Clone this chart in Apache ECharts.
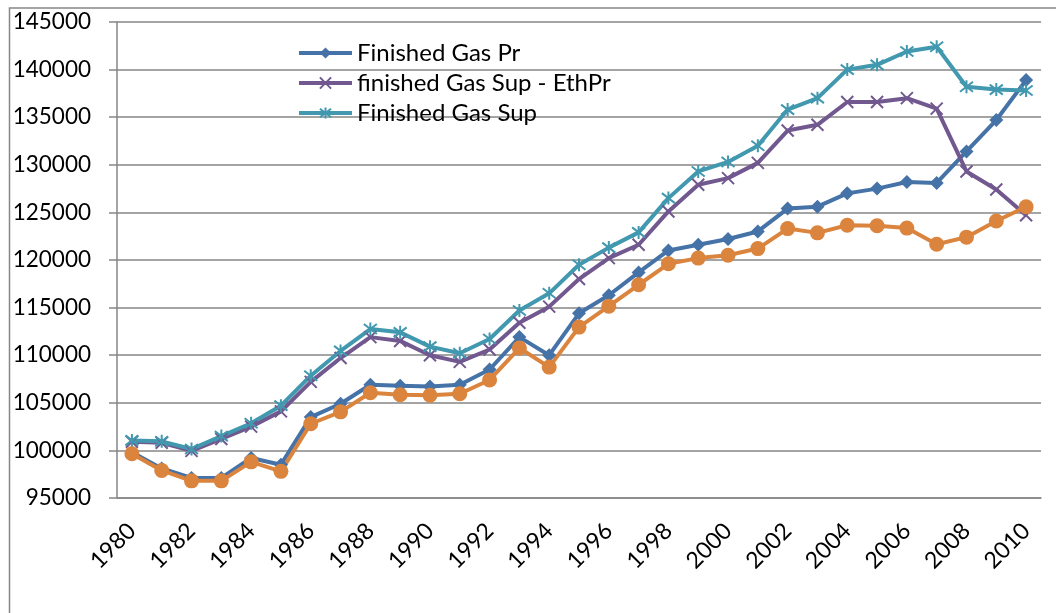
<!DOCTYPE html>
<html>
<head>
<meta charset="utf-8">
<script src="https://cdn.jsdelivr.net/npm/echarts@6/dist/echarts.min.js"></script>
<style>
html,body{margin:0;padding:0;background:#fff;}
#chart{width:1056px;height:613px;}
</style>
</head>
<body>
<div id="chart"></div>
<script>
const years = ['1980','1981','1982','1983','1984','1985','1986','1987','1988','1989','1990','1991','1992','1993','1994','1995','1996','1997','1998','1999','2000','2001','2002','2003','2004','2005','2006','2007','2008','2009','2010'];
const finishedGasPr = [99800,98100,97100,97100,99200,98500,103500,104900,106900,106800,106700,106900,108500,111900,110000,114400,116300,118700,121000,121600,122200,123000,125400,125600,127000,127500,128200,128100,131400,134700,138900];
const finishedGasSupMinusEthPr = [100900,100800,99950,101200,102500,104100,107200,109700,111900,111500,110000,109300,110600,113400,115100,118000,120200,121600,125100,127900,128600,130200,133600,134200,136600,136600,137000,135900,129300,127400,124700];
const finishedGasSup = [101050,100950,100150,101500,102850,104700,107850,110450,112750,112400,110900,110200,111700,114700,116500,119500,121300,122900,126500,129300,130300,132000,135800,137000,140000,140500,141900,142400,138200,137900,137800];
const unlabeledSeries = [99650,97900,96800,96800,98800,97800,102800,104050,106050,105850,105800,105950,107400,110750,108750,112950,115150,117400,119600,120200,120500,121200,123300,122850,123650,123600,123350,121650,122400,124100,125600];
const legendNames = ['Finished Gas Pr','finished Gas Sup - EthPr','Finished Gas Sup'];

const FONT = 'Lato, "Noto Sans", sans-serif';
const xPath = 'path://M0,0L10,10M10,0L0,10';
const starPath = 'path://M0,0L10,10M10,0L0,10M5,-1.5L5,11.5';

const chart = echarts.init(document.getElementById('chart'), null, {renderer:'canvas'});
chart.setOption({
  animation: false,
  backgroundColor: '#ffffff',
  graphic: [{
    type: 'rect', left: 7, top: 5.5, z: -1,
    shape: {x: 0, y: 0, width: 1200, height: 800},
    style: {fill: 'none', stroke: '#878787', lineWidth: 1.5}
  }],
  grid: {left: 117, right: 15, top: 22, bottom: 115, containLabel: false},
  legend: {
    data: legendNames,
    orient: 'vertical',
    left: 297, top: 41,
    padding: 0,
    itemWidth: 53, itemHeight: 14, itemGap: 6,
    lineStyle: {width: 4},
    textStyle: {fontFamily: FONT, fontSize: 24, color: '#000'}
  },
  xAxis: {
    type: 'category',
    data: years,
    boundaryGap: true,
    axisLine: {lineStyle: {color: '#868686', width: 1.5}},
    axisTick: {interval: 1, length: 6, lineStyle: {color: '#868686', width: 1.5}},
    axisLabel: {interval: 1, rotate: 45, margin: 29, fontFamily: FONT, fontSize: 23, color: '#000'},
    splitLine: {show: false}
  },
  yAxis: {
    type: 'value',
    min: 95000, max: 145000, interval: 5000,
    axisLine: {show: true, lineStyle: {color: '#868686', width: 1.5}},
    axisTick: {show: true, length: 8, lineStyle: {color: '#868686', width: 1.5}},
    axisLabel: {margin: 26, fontFamily: FONT, fontSize: 22.5, color: '#000', formatter: v => String(v)},
    splitLine: {lineStyle: {color: '#868686', width: 1.5}}
  },
  series: [
    {
      name: 'Finished Gas Pr', type: 'line', data: finishedGasPr,
      symbol: 'diamond', symbolSize: 14,
      lineStyle: {color: '#4572A7', width: 4},
      itemStyle: {color: '#4572A7'}
    },
    {
      name: 'finished Gas Sup - EthPr', type: 'line', data: finishedGasSupMinusEthPr,
      symbol: xPath, symbolSize: 12,
      lineStyle: {color: '#71588F', width: 4},
      itemStyle: {color: '#71588F', borderColor: '#71588F', borderWidth: 2}
    },
    {
      name: 'Finished Gas Sup', type: 'line', data: finishedGasSup,
      symbol: starPath, symbolSize: 13,
      lineStyle: {color: '#4198AF', width: 4},
      itemStyle: {color: '#4198AF', borderColor: '#4198AF', borderWidth: 2}
    },
    {
      name: 'Series 4', type: 'line', data: unlabeledSeries,
      symbol: 'circle', symbolSize: 15,
      lineStyle: {color: '#DB843D', width: 4},
      itemStyle: {color: '#DB843D'}
    }
  ]
});
</script>
</body>
</html>
